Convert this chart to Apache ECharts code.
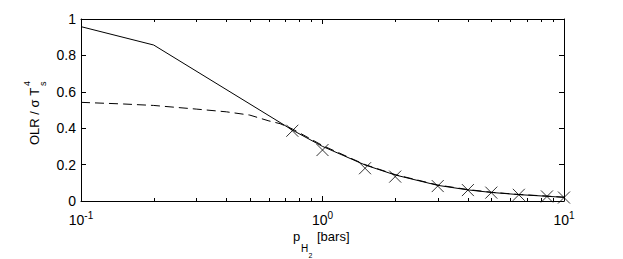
<!DOCTYPE html>
<html>
<head>
<meta charset="utf-8">
<script src="https://cdn.jsdelivr.net/npm/echarts@6/dist/echarts.min.js"></script>
<style>
html,body{margin:0;padding:0;background:#fff;}
#c{width:623px;height:259px;}
</style>
</head>
<body>
<div id="c"></div>
<script>
// ---- data ----
var solidX  = [0.1, 0.2, 0.75, 1, 1.5, 2, 3, 4, 5, 6.5, 8.5, 10];
var solidY  = [0.958, 0.857, 0.39, 0.30, 0.198, 0.143, 0.086, 0.061, 0.047, 0.035, 0.026, 0.02];
var dashX   = [0.1, 0.15, 0.2, 0.3, 0.4, 0.5, 0.6, 0.667, 0.75, 1, 1.5, 2, 3, 4, 5, 6.5, 8.5, 10];
var dashY   = [0.542, 0.533, 0.525, 0.505, 0.49, 0.472, 0.44, 0.425, 0.396, 0.305, 0.2, 0.145, 0.088, 0.063, 0.048, 0.036, 0.027, 0.021];
var markX   = [0.75, 1, 1.5, 2, 3, 4, 5, 6.5, 8.5, 10];
var markY   = [0.386, 0.28, 0.18, 0.134, 0.082, 0.06, 0.046, 0.034, 0.025, 0.019];
var minorTicks = [0.2, 0.3, 0.4, 0.5, 0.6, 0.7, 0.8, 0.9, 2, 3, 4, 5, 6, 7, 8, 9];
var yTicks = [0, 0.2, 0.4, 0.6, 0.8, 1];

function zip(xs, ys){ return xs.map(function(x,i){ return [x, ys[i]]; }); }

var FONT = 'Liberation Sans, Arial, Helvetica, sans-serif';
var chart = echarts.init(document.getElementById('c'), null, {renderer: 'svg'});

var xCommon = {
  type: 'log', logBase: 10, min: 0.1, max: 10, interval: 1,
  splitLine: {show: false},
  axisLine: {onZero: false, lineStyle: {color: '#000', width: 1}},
  axisTick: {inside: true, length: 5, lineStyle: {color: '#000'}},
  minorTick: {show: false}
};
var yCommon = {
  type: 'value', min: 0, max: 1, interval: 0.2,
  splitLine: {show: false},
  axisLine: {onZero: false, lineStyle: {color: '#000', width: 1}},
  axisTick: {inside: true, length: 5, lineStyle: {color: '#000'}}
};

chart.setOption({
  animation: false,
  backgroundColor: '#fff',
  grid: {left: 81, right: 59, top: 19, bottom: 58, containLabel: false},
  xAxis: [
    Object.assign({}, xCommon, {
      position: 'bottom',
      axisLabel: {
        margin: 9,
        formatter: function (v) {
          var e = Math.round(Math.log10(v));
          return '{b|10}{s|' + e + '}';
        },
        rich: {
          b: {fontSize: 14, fontFamily: FONT, color: '#000'},
          s: {fontSize: 10, fontFamily: FONT, color: '#000', padding: [0, 0, 10, 0]}
        }
      }
    }),
    Object.assign({}, xCommon, {position: 'top', axisLabel: {show: false}})
  ],
  yAxis: [
    Object.assign({}, yCommon, {
      position: 'left',
      axisLabel: {margin: 5, fontSize: 14, fontFamily: FONT, color: '#000'}
    }),
    Object.assign({}, yCommon, {position: 'right', axisLabel: {show: false}})
  ],
  graphic: [
    {
      type: 'group', x: 39, y: 145, rotation: Math.PI / 2, silent: true,
      children: [
        {type: 'text', x: 0, y: -4.5, style: {text: 'OLR / σ T', font: '13px ' + FONT, fill: '#000', align: 'left', verticalAlign: 'middle'}},
        {type: 'text', x: 59, y: -12.5, style: {text: '4', font: '9px ' + FONT, fill: '#000', align: 'left', verticalAlign: 'middle'}},
        {type: 'text', x: 59, y: 3.5, style: {text: 's', font: '9px ' + FONT, fill: '#000', align: 'left', verticalAlign: 'middle'}}
      ]
    },
    {
      type: 'group', x: 293, y: 241, silent: true,
      children: [
        {type: 'text', x: 0, y: -4.5, style: {text: 'p', font: '13px ' + FONT, fill: '#000', align: 'left', verticalAlign: 'middle'}},
        {type: 'text', x: 8, y: 7.5, style: {text: 'H', font: '10px ' + FONT, fill: '#000', align: 'left', verticalAlign: 'middle'}},
        {type: 'text', x: 15.5, y: 14.5, style: {text: '2', font: '7px ' + FONT, fill: '#000', align: 'left', verticalAlign: 'middle'}},
        {type: 'text', x: 24, y: -4.5, style: {text: '[bars]', font: '13px ' + FONT, fill: '#000', align: 'left', verticalAlign: 'middle'}}
      ]
    }
  ],
  series: [
    {
      type: 'line', name: 'solid', data: zip(solidX, solidY),
      showSymbol: false, symbol: 'none', smooth: false,
      lineStyle: {color: '#000', width: 1, type: 'solid'}, silent: true
    },
    {
      type: 'line', name: 'dashed', data: zip(dashX, dashY),
      showSymbol: false, symbol: 'none', smooth: false,
      lineStyle: {color: '#000', width: 1, type: [9, 5]}, silent: true
    },
    {
      type: 'scatter', name: 'markers', data: zip(markX, markY),
      symbol: 'path://M0,0L10,10M10,0L0,10', symbolSize: [12, 12],
      itemStyle: {color: 'none', borderColor: '#000', borderWidth: 1}, silent: true
    },
    {
      type: 'custom', name: 'minor', silent: true, clip: false,
      data: minorTicks.map(function (v) { return [v, 0]; }),
      renderItem: function (params, api) {
        var b = api.coord([api.value(0), 0]);
        var t = api.coord([api.value(0), 1]);
        var x = Math.round(b[0]) + 0.5;
        return {
          type: 'group',
          children: [
            {type: 'line', shape: {x1: x, y1: b[1], x2: x, y2: b[1] - 3}, style: {stroke: '#000', lineWidth: 1}},
            {type: 'line', shape: {x1: x, y1: t[1], x2: x, y2: t[1] + 3}, style: {stroke: '#000', lineWidth: 1}}
          ]
        };
      }
    }
  ]
});
</script>
</body>
</html>
